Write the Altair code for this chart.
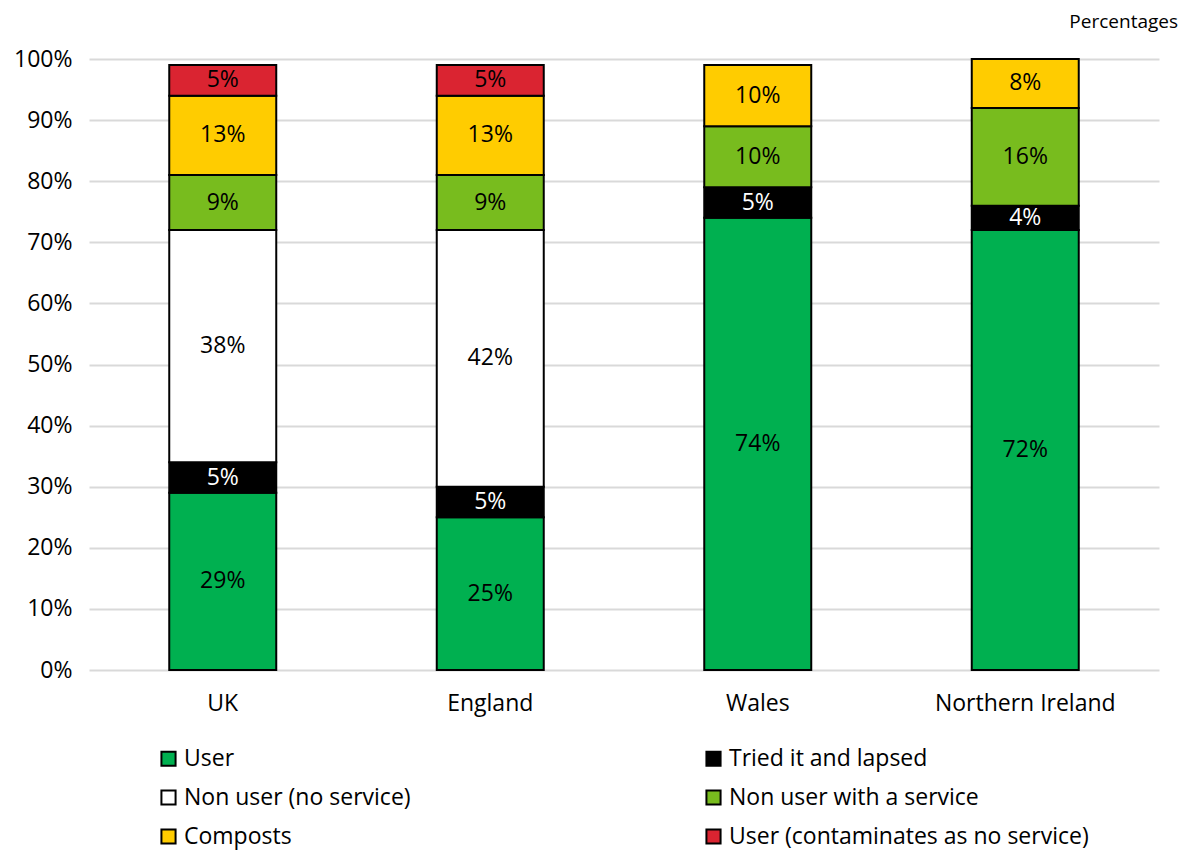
import altair as alt
import pandas as pd

regions = ["UK", "England", "Wales", "Northern Ireland"]
series = ["User", "Tried it and lapsed", "Non user (no service)",
          "Non user with a service", "Composts", "User (contaminates as no service)"]
user = [29, 25, 74, 72]
tried = [5, 5, 5, 4]
no_service = [38, 42, 0, 0]
with_service = [9, 9, 10, 16]
composts = [13, 13, 10, 8]
contaminates = [5, 5, 0, 0]
colors = ["#00B050", "#000000", "#FFFFFF", "#78BC1E", "#FFCC00", "#DA2431"]

values = [user, tried, no_service, with_service, composts, contaminates]
rows = []
for si, (s, vals) in enumerate(zip(series, values)):
    for r, v in zip(regions, vals):
        rows.append({"region": r, "series": s, "order": si, "value": v})
df = pd.DataFrame(rows)

FONT = "Open Sans"
FS = 23

base = alt.Chart(df).transform_stack(
    stack="value", groupby=["region"], as_=["y0", "y1"],
    sort=[alt.SortField("order", order="ascending")]
).transform_filter("datum.value > 0").transform_calculate(
    mid="(datum.y0 + datum.y1) / 2", label="datum.value + '%'"
)

x_enc = alt.X("region:N", sort=regions, title=None,
              scale=alt.Scale(paddingInner=0.6, paddingOuter=0.3),
              axis=alt.Axis(labelAngle=0, ticks=False, domain=False, labelLimit=400,
                            labelFontSize=FS, labelPadding=22, labelColor="#000000"))

bars = base.mark_bar(stroke="#000000", strokeWidth=2).encode(
    x=x_enc,
    y=alt.Y("y0:Q", title=None,
            scale=alt.Scale(domain=[0, 100]),
            axis=alt.Axis(values=list(range(0, 101, 10)), labelExpr="datum.value + '%'",
                          ticks=False, domain=False, gridColor="#D9D9D9", gridWidth=2,
                          labelFontSize=FS, labelPadding=17, labelColor="#000000")),
    y2="y1:Q",
    fill=alt.Fill("series:N", sort=series, title=None,
                  scale=alt.Scale(domain=series, range=colors),
                  legend=alt.Legend(orient="none", legendX=68, legendY=688,
                                    direction="horizontal",
                                    columns=2, columnPadding=291, rowPadding=15,
                                    symbolType="square", symbolSize=200,
                                    symbolStrokeColor="#000000", symbolStrokeWidth=2,
                                    labelFontSize=FS, labelColor="#000000",
                                    labelLimit=500, labelOffset=4)),
)

text = base.mark_text(fontSize=FS, font=FONT).encode(
    x=alt.X("region:N", sort=regions),
    y=alt.Y("mid:Q"),
    text="label:N",
    color=alt.condition("datum.series == 'Tried it and lapsed'",
                        alt.value("#FFFFFF"), alt.value("#000000")),
)

chart = alt.layer(bars, text).properties(
    width=1070, height=611,
    title=alt.TitleParams("Percentages", anchor="end", fontSize=19, font=FONT,
                          fontWeight="normal", color="#000000", dx=19, offset=16),
).configure(font=FONT).configure_view(stroke=None)

chart.save("out.html", embed_options={"renderer": "svg", "actions": False})
